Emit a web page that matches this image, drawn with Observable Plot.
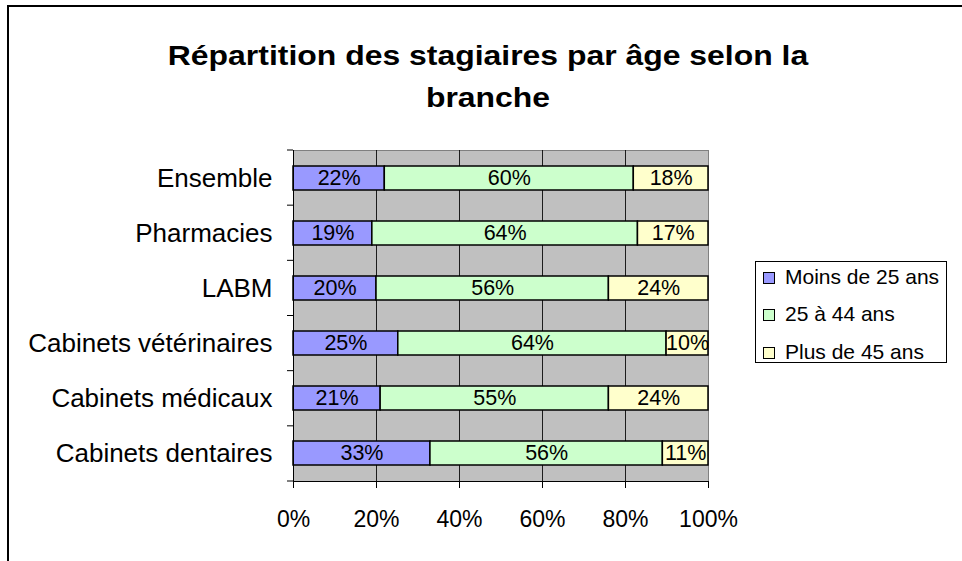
<!DOCTYPE html>
<html>
<head>
<meta charset="utf-8">
<script src="https://cdn.jsdelivr.net/npm/d3@7"></script>
<script src="https://cdn.jsdelivr.net/npm/@observablehq/plot@0.6"></script>
<style>
  html, body { margin: 0; padding: 0; background: #fff; overflow: hidden; }
  #wrap { position: relative; width: 962px; height: 561px; font-family: "Liberation Sans", Arial, sans-serif; color: #000; }
  #border { position: absolute; left: 7px; top: 5px; width: 1000px; height: 700px; border-left: 2px solid #000; border-top: 2px solid #000; box-sizing: border-box; }
  #title { position: absolute; left: 14px; width: 948px; top: 35px; text-align: center; font-weight: bold; font-size: 28px; line-height: 42px; transform: scaleX(1.14); transform-origin: 474px 0; }
  #chart { position: absolute; left: 0; top: 0; }
  #legend { position: absolute; left: 755px; top: 261px; width: 192px; height: 102px; border: 1px solid #000; box-sizing: border-box; background: #fff; font-size: 21px; }
  .item { position: absolute; left: 7px; height: 24px; line-height: 24px; white-space: nowrap; }
  .sw { display: inline-block; width: 10px; height: 10px; border: 1px solid #000; margin-right: 10px; vertical-align: 0px; }
</style>
</head>
<body>
<div id="wrap">
  <div id="chart"></div>
  <div id="border"></div>
  <div id="title">Répartition des stagiaires par âge selon la<br>branche</div>
  <div id="legend"></div>
</div>
<script>
const categories = ["Ensemble", "Pharmacies", "LABM", "Cabinets vétérinaires", "Cabinets médicaux", "Cabinets dentaires"];
const series = ["Moins de 25 ans", "25 à 44 ans", "Plus de 45 ans"];
const moins25 = [22, 19, 20, 25, 21, 33];
const de25a44 = [60, 64, 56, 64, 55, 56];
const plus45 = [18, 17, 24, 10, 24, 11];
const xTicks = [0, 0.2, 0.4, 0.6, 0.8, 1];
const gridTicks = [0.2, 0.4, 0.6, 0.8];
const colors = ["#9999FF", "#CCFFCC", "#FFFFCC"];

const valuesBySeries = [moins25, de25a44, plus45];
const data = [];
categories.forEach((c, i) => {
  series.forEach((s, j) => data.push({branche: c, tranche: s, value: valuesBySeries[j][i]}));
});

const padInner = 0.565;

const yBoundaryTicks = (index, scales, values, dims) => {
  const g = d3.create("svg:g");
  const n = categories.length;
  const step = (dims.height - dims.marginTop - dims.marginBottom) / n;
  for (let i = 0; i <= n; i++) {
    const yy = dims.marginTop + i * step;
    g.append("line")
      .attr("x1", dims.marginLeft - 6).attr("x2", dims.marginLeft)
      .attr("y1", yy).attr("y2", yy)
      .attr("stroke", "#000").attr("stroke-width", 1);
  }
  return g.node();
};

const chart = Plot.plot({
  width: 962,
  height: 561,
  marginLeft: 293,
  marginRight: 254,
  marginTop: 150,
  marginBottom: 80,
  style: {fontFamily: "'Liberation Sans', Arial, sans-serif", color: "#000", background: "transparent"},
  x: {domain: [0, 1]},
  y: {domain: categories, paddingInner: padInner, paddingOuter: padInner / 2},
  color: {domain: series, range: colors},
  marks: [
    Plot.frame({fill: "#C0C0C0", stroke: "#808080", strokeWidth: 1}),
    Plot.ruleX(gridTicks, {stroke: "#000", strokeWidth: 1, strokeOpacity: 0.85}),
    Plot.barX(data, Plot.stackX({offset: "normalize", x: "value", y: "branche", fill: "tranche", stroke: "#000", strokeWidth: 1.5})),
    Plot.text(data, Plot.stackX({offset: "normalize", x: "value", y: "branche", z: "tranche", text: d => d.value + "%", fontSize: 21.5, fill: "#000"})),
    Plot.frame({anchor: "left", stroke: "#000", strokeWidth: 1}),
    Plot.frame({anchor: "bottom", stroke: "#000", strokeWidth: 1}),
    yBoundaryTicks,
    Plot.axisX({ticks: xTicks, tickFormat: d => Math.round(d * 100) + "%", tickSize: 7, tickPadding: 22, fontSize: 23, stroke: "#000", label: null}),
    Plot.axisY({tickSize: 0, tickPadding: 21, fontSize: 26, label: null})
  ]
});
document.getElementById("chart").appendChild(chart);

const legend = document.getElementById("legend");
const tops = [3, 40, 78];
series.forEach((s, i) => {
  const it = document.createElement("div");
  it.className = "item";
  it.style.top = tops[i] + "px";
  const sw = document.createElement("span");
  sw.className = "sw";
  sw.style.background = colors[i];
  it.appendChild(sw);
  it.appendChild(document.createTextNode(s));
  legend.appendChild(it);
});
</script>
</body>
</html>
